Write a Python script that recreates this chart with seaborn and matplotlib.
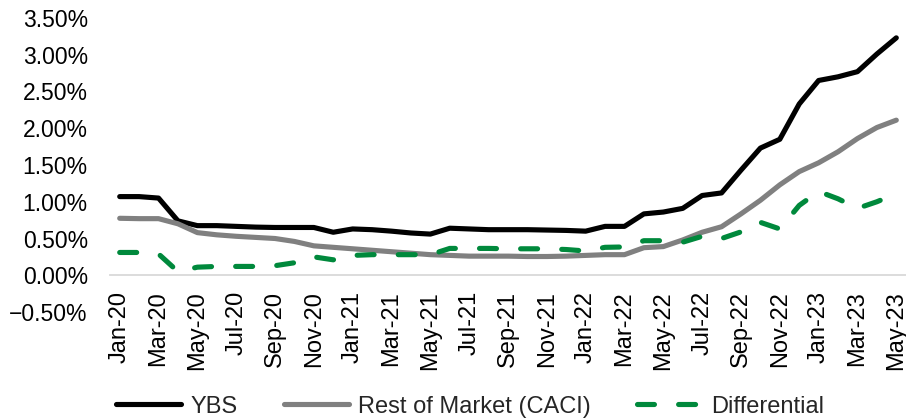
import matplotlib
matplotlib.use("Agg")
import matplotlib.pyplot as plt
import seaborn as sns
import pandas as pd
import numpy as np
from matplotlib.ticker import FixedLocator, PercentFormatter

months = ["Jan-20", "Feb-20", "Mar-20", "Apr-20", "May-20", "Jun-20", "Jul-20", "Aug-20",
          "Sep-20", "Oct-20", "Nov-20", "Dec-20", "Jan-21", "Feb-21", "Mar-21", "Apr-21",
          "May-21", "Jun-21", "Jul-21", "Aug-21", "Sep-21", "Oct-21", "Nov-21", "Dec-21",
          "Jan-22", "Feb-22", "Mar-22", "Apr-22", "May-22", "Jun-22", "Jul-22", "Aug-22",
          "Sep-22", "Oct-22", "Nov-22", "Dec-22", "Jan-23", "Feb-23", "Mar-23", "Apr-23",
          "May-23"]

ybs = [1.07, 1.07, 1.05, 0.74, 0.675, 0.675, 0.665, 0.655, 0.65, 0.65, 0.65, 0.585,
       0.63, 0.62, 0.60, 0.575, 0.56, 0.64, 0.63, 0.62, 0.62, 0.62, 0.615, 0.61,
       0.60, 0.665, 0.665, 0.835, 0.86, 0.91, 1.085, 1.12, 1.43, 1.73, 1.85, 2.33,
       2.65, 2.70, 2.77, 3.01, 3.23]

rest = [0.775, 0.77, 0.77, 0.70, 0.58, 0.55, 0.53, 0.515, 0.50, 0.46, 0.40, 0.38,
        0.36, 0.34, 0.32, 0.30, 0.28, 0.27, 0.26, 0.26, 0.26, 0.255, 0.255, 0.26,
        0.27, 0.28, 0.28, 0.375, 0.39, 0.48, 0.585, 0.66, 0.835, 1.02, 1.23, 1.41,
        1.53, 1.68, 1.86, 2.01, 2.11]

diff = [0.31, 0.31, 0.29, 0.05, 0.11, 0.12, 0.12, 0.12, 0.13, 0.17, 0.25, 0.21,
        0.27, 0.28, 0.28, 0.28, 0.28, 0.365, 0.365, 0.365, 0.36, 0.36, 0.36, 0.35,
        0.33, 0.38, 0.385, 0.47, 0.47, 0.45, 0.53, 0.50, 0.59, 0.72, 0.63, 0.95,
        1.14, 1.04, 0.91, 1.00, 1.11]

series_names = ["YBS", "Rest of Market (CACI)", "Differential"]
y_ticks = [-0.5, 0.0, 0.5, 1.0, 1.5, 2.0, 2.5, 3.0, 3.5]

sns.set_theme(style="white")
plt.rcParams["font.family"] = ["Liberation Sans", "DejaVu Sans"]

fig = plt.figure(figsize=(9.06, 4.18), dpi=100)
ax = fig.add_axes([110 / 906, 1 - 312 / 418, 796 / 906, 294 / 418])

x = np.arange(len(months))
df = pd.DataFrame({"x": x, "YBS": ybs, "Rest of Market (CACI)": rest, "Differential": diff})

styles = {
    "YBS": dict(color="#000000", linewidth=3.7, solid_capstyle="round"),
    "Rest of Market (CACI)": dict(color="#808080", linewidth=3.7, solid_capstyle="round"),
    "Differential": dict(color="#00893C", linewidth=3.7, linestyle=(0, (3.3, 4.7)),
                         dash_capstyle="round"),
}
for name in series_names:
    sns.lineplot(data=df, x="x", y=name, ax=ax, label=name, **styles[name])

ax.set_xlim(-0.5, len(months) - 0.5)
ax.set_ylim(-0.5, 3.5)
ax.set_yticks(y_ticks)
ax.yaxis.set_major_formatter(PercentFormatter(decimals=2))
ax.set_xlabel("")
ax.set_ylabel("")

for s in ["top", "right", "left"]:
    ax.spines[s].set_visible(False)
ax.spines["bottom"].set_position(("data", 0))
ax.spines["bottom"].set_color("#D9D9D9")
ax.spines["bottom"].set_linewidth(1.3)

ax.xaxis.set_major_locator(FixedLocator(x[::2]))
ax.set_xticklabels(months[::2], rotation=90, fontsize=17)
ax.xaxis.set_minor_locator(FixedLocator(np.arange(-0.5, len(months) - 0.5, 2)))
ax.tick_params(axis="x", which="major", length=0, pad=11.5)
ax.tick_params(axis="x", which="minor", length=4.5, width=1.3, color="#D9D9D9", direction="out")
ax.tick_params(axis="y", length=0, pad=16, labelsize=16.5)
for lbl in ax.get_yticklabels():
    lbl.set_color("#000000")
for lbl in ax.get_xticklabels():
    lbl.set_color("#000000")
ax.grid(False)

handles, labels = ax.get_legend_handles_labels()
ax.get_legend().remove()
fig.legend(handles, labels, loc="center", bbox_to_anchor=(0.519, 0.027), ncol=3,
           frameon=False, fontsize=17, handlelength=2.75, handletextpad=0.4,
           columnspacing=1.95, borderpad=0, borderaxespad=0)

fig.savefig("out.png", dpi=100)
